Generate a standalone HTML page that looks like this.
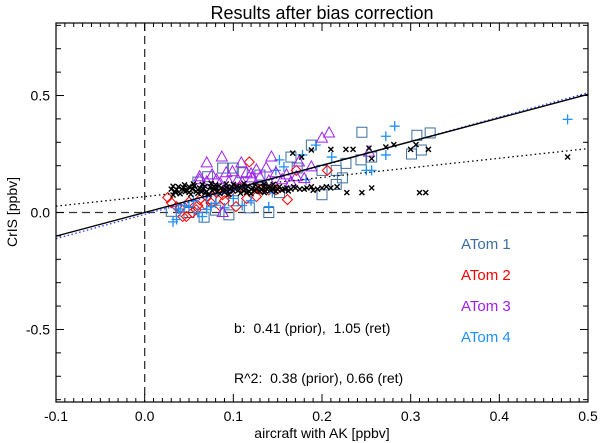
<!DOCTYPE html>
<html><head><meta charset="utf-8"><style>
html,body{margin:0;padding:0;background:#fff;}
svg{display:block;font-family:"Liberation Sans",sans-serif;}
</style></head><body>
<svg id="chart" width="600" height="443" viewBox="0 0 600 443" xmlns="http://www.w3.org/2000/svg">
<text x="322" y="19" font-size="18" text-anchor="middle">Results after bias correction</text>
<text transform="translate(17,212) rotate(-90)" font-size="14" text-anchor="middle">CrIS [ppbv]</text>
<text x="322" y="438" font-size="14" text-anchor="middle">aircraft with AK [ppbv]</text>
<g id="grid"></g><g id="marks"></g><g id="axes"></g>
<text x="461" y="249" font-size="15" fill="#3c6ea0">ATom 1</text>
<text x="461" y="280" font-size="15" fill="#ff0000">ATom 2</text>
<text x="461" y="311" font-size="15" fill="#a020f0">ATom 3</text>
<text x="461" y="342" font-size="15" fill="#1e90ff">ATom 4</text>
<text x="234" y="333" font-size="14" xml:space="preserve">b:  0.41 (prior),  1.05 (ret)</text>
<text x="234" y="383" font-size="14" xml:space="preserve">R^2:  0.38 (prior), 0.66 (ret)</text>
</svg>
<script>
const xTicks=[-0.1,0.0,0.1,0.2,0.3,0.4,0.5];
const xTickLabels=["-0.1","0.0","0.1","0.2","0.3","0.4","0.5"];
const yTicks=[-0.5,0.0,0.5];
const yTickLabels=["-0.5","0.0","0.5"];
const blackX=[[0.03,0.1],[0.034,0.09],[0.038,0.11],[0.042,0.1],[0.046,0.09],[0.05,0.11],[0.054,0.1],[0.058,0.09],[0.062,0.105],[0.066,0.1],[0.07,0.09],[0.074,0.11],[0.078,0.1],[0.082,0.09],[0.086,0.105],[0.09,0.1],[0.094,0.09],[0.098,0.11],[0.102,0.1],[0.106,0.095],[0.11,0.11],[0.114,0.1],[0.118,0.09],[0.122,0.105],[0.126,0.1],[0.13,0.09],[0.134,0.11],[0.138,0.1],[0.142,0.095],[0.146,0.105],[0.15,0.1],[0.155,0.095],[0.16,0.105],[0.165,0.1],[0.032,0.075],[0.04,0.08],[0.052,0.078],[0.06,0.082],[0.072,0.076],[0.085,0.08],[0.095,0.078],[0.108,0.082],[0.12,0.08],[0.135,0.085],[0.045,0.118],[0.065,0.12],[0.08,0.118],[0.1,0.12],[0.125,0.118],[0.145,0.12],[0.17,0.105],[0.188,0.11],[0.2,0.105],[0.21,0.105],[0.217,0.11],[0.228,0.085],[0.245,0.085],[0.256,0.105],[0.31,0.085],[0.317,0.085],[0.188,0.267],[0.21,0.27],[0.227,0.27],[0.235,0.27],[0.253,0.275],[0.272,0.28],[0.281,0.29],[0.3,0.27],[0.306,0.29],[0.32,0.27],[0.477,0.237],[0.167,0.254],[0.177,0.237],[0.256,0.23],[0.18,0.1],[0.19,0.095],
[0.032,0.112],[0.036,0.098],[0.044,0.106],[0.048,0.094],[0.056,0.114],[0.06,0.096],[0.064,0.088],[0.068,0.112],[0.076,0.094],[0.08,0.106],[0.084,0.114],[0.088,0.092],[0.092,0.108],[0.096,0.1],[0.1,0.092],[0.104,0.112],[0.108,0.104],[0.112,0.092],[0.116,0.112],[0.12,0.1],[0.124,0.092],[0.128,0.108],[0.132,0.1],[0.136,0.092],[0.14,0.112],[0.144,0.1],[0.148,0.09],[0.152,0.11],[0.158,0.1],[0.162,0.092],[0.168,0.11],[0.175,0.1],[0.183,0.105],[0.195,0.1],[0.205,0.11],[0.035,0.085],[0.05,0.086],[0.068,0.083],[0.09,0.086],[0.115,0.086],[0.055,0.122],[0.075,0.124],[0.092,0.122],[0.112,0.124],[0.135,0.122]];
const atom1=[[0.088,0.19],[0.071,0.153],[0.245,0.343],[0.188,0.288],[0.165,0.237],[0.2,0.18],[0.216,0.18],[0.227,0.21],[0.244,0.225],[0.256,0.237],[0.223,0.148],[0.216,0.12],[0.2,0.076],[0.152,0.085],[0.118,0.02],[0.067,-0.02],[0.03,0.005],[0.1,0.19],[0.172,0.19],[0.307,0.33],[0.322,0.34],[0.301,0.25],[0.312,0.267],[0.05,0.0],[0.08,0.01],[0.1,0.05],[0.06,0.13],[0.14,0.0],[0.095,-0.01],[0.11,0.17],[0.13,0.16],[0.075,0.06]];
const atom2=[[0.118,0.216],[0.206,0.18],[0.161,0.055],[0.103,0.025],[0.047,-0.017],[0.026,0.064],[0.03,0.042],[0.036,0.025],[0.04,0.02],[0.054,0.0],[0.062,0.055],[0.07,0.068],[0.081,0.085],[0.088,0.076],[0.096,0.085],[0.107,0.11],[0.126,0.068],[0.14,0.097],[0.148,0.097],[0.171,0.18],[0.043,-0.017],[0.06,0.03],[0.075,0.04],[0.09,0.05],[0.115,0.06],[0.05,0.045],[0.058,0.012],[0.068,0.035],[0.085,0.028],[0.13,0.1]];
const atom3=[[0.07,0.212],[0.087,0.237],[0.143,0.237],[0.109,0.212],[0.208,0.34],[0.2,0.318],[0.174,0.216],[0.188,0.195],[0.062,0.153],[0.076,0.161],[0.092,0.17],[0.099,0.174],[0.115,0.17],[0.126,0.182],[0.137,0.19],[0.148,0.17],[0.16,0.161],[0.171,0.153],[0.088,0.0],[0.121,0.148],[0.081,0.14],[0.07,0.131],[0.253,0.258],[0.062,0.14],[0.105,0.14],[0.13,0.15],[0.085,0.125],[0.095,0.13],[0.11,0.128],[0.14,0.135],[0.155,0.14],[0.165,0.13],[0.12,0.165],[0.18,0.145]];
const atom4=[[0.032,-0.04],[0.036,-0.03],[0.05,0.025],[0.07,0.013],[0.065,-0.017],[0.04,0.004],[0.14,0.025],[0.148,0.18],[0.152,0.225],[0.157,0.195],[0.178,0.246],[0.193,0.288],[0.182,0.14],[0.211,0.237],[0.25,0.18],[0.256,0.18],[0.144,0.085],[0.07,0.068],[0.272,0.326],[0.282,0.369],[0.272,0.246],[0.477,0.398],[0.045,0.03],[0.055,0.05],[0.08,0.04],[0.09,0.02],[0.1,0.06],[0.11,0.03],[0.12,0.05],[0.038,0.015],[0.06,0.0],[0.075,0.025]];
const fitRet=[1.01,0.0];
const fitBlue=[1.04,-0.008];
const fitPrior=[0.41,0.068];

const L=56,R=588,T=23,B=402;
const sx=v=>L+(v+0.1)/0.6*(R-L);
const sy=v=>T+(0.81-v)/1.62*(B-T);
const NS="http://www.w3.org/2000/svg";
function mk(tag,attrs,parent){const e=document.createElementNS(NS,tag);for(const k in attrs)e.setAttribute(k,attrs[k]);parent.appendChild(e);return e;}
const axes=document.getElementById('axes'),marks=document.getElementById('marks'),grid=document.getElementById('grid');

let e=mk('line',{x1:sx(0),x2:sx(0),y1:T,y2:B,stroke:'#333','stroke-width':1.3,'stroke-dasharray':'8,5'},grid);

e=mk('line',{x1:L,x2:R,y1:sy(0),y2:sy(0),stroke:'#333','stroke-width':1.3,'stroke-dasharray':'8,5'},grid);


function sym(kind,x,y,col,name){
  const g=mk('g',{stroke:col,fill:'none','stroke-width':1},marks);
  
  
  const px=sx(x),py=sy(y);
  if(kind==='x'){mk('path',{d:`M${px-2.5},${py-2.5}L${px+2.5},${py+2.5}M${px-2.5},${py+2.5}L${px+2.5},${py-2.5}`,'stroke-width':1.4},g);}
  else if(kind==='sq'){mk('rect',{x:px-5,y:py-5,width:10,height:10},g);}
  else if(kind==='di'){mk('path',{d:`M${px},${py-5}L${px+5},${py}L${px},${py+5}L${px-5},${py}Z`},g);}
  else if(kind==='tri'){mk('path',{d:`M${px},${py-6}L${px+5.5},${py+4}L${px-5.5},${py+4}Z`},g);}
  else {mk('path',{d:`M${px-5},${py}L${px+5},${py}M${px},${py-5}L${px},${py+5}`,'stroke-width':1.3},g);}
}
atom1.forEach(p=>sym('sq',p[0],p[1],'#3c6ea0','point-atom1'));
atom2.forEach(p=>sym('di',p[0],p[1],'#ff0000','point-atom2'));
atom4.forEach(p=>sym('pl',p[0],p[1],'#1e90ff','point-atom4'));
atom3.forEach(p=>sym('tri',p[0],p[1],'#a020f0','point-atom3'));
blackX.forEach(p=>sym('x',p[0],p[1],'#000','point-aircraft'));

function fit(f,attrs,name){const l=mk('line',Object.assign({x1:sx(-0.1),y1:sy(f[0]*-0.1+f[1]),x2:sx(0.5),y2:sy(f[0]*0.5+f[1])},attrs),marks);
}
fit(fitBlue,{stroke:'#2040ff','stroke-width':1.3,'stroke-dasharray':'1.5,2.5'},'fit-line-blue-dotted');
fit(fitRet,{stroke:'#000','stroke-width':1.4},'fit-line-retrieval');
fit(fitPrior,{stroke:'#000','stroke-width':1.3,'stroke-dasharray':'1.5,3'},'fit-line-prior');

e=mk('rect',{x:L,y:T,width:R-L,height:B-T,fill:'none',stroke:'#000','stroke-width':1.2},axes);

for(let i=0;i<=60;i++){const v=-0.1+i*0.01;const major=i%10===0;const len=major?8:4;const x=sx(v);
  mk('line',{x1:x,x2:x,y1:B,y2:B-len,stroke:'#000','stroke-width':1},axes);
  mk('line',{x1:x,x2:x,y1:T,y2:T+len,stroke:'#000','stroke-width':1},axes);}
for(let i=-8;i<=8;i++){const v=i*0.1;const major=i%5===0;const len=major?8:5;const y=sy(v);
  mk('line',{x1:L,x2:L+len,y1:y,y2:y,stroke:'#000','stroke-width':1},axes);
  mk('line',{x1:R,x2:R-len,y1:y,y2:y,stroke:'#000','stroke-width':1},axes);}
xTicks.forEach((v,i)=>{const t=mk('text',{x:sx(v),y:B+19,'font-size':14,'text-anchor':'middle'},axes);t.textContent=xTickLabels[i];
});
yTicks.forEach((v,i)=>{const t=mk('text',{x:L-6,y:sy(v)+5,'font-size':14,'text-anchor':'end'},axes);t.textContent=yTickLabels[i];
});
</script>
</body></html>
